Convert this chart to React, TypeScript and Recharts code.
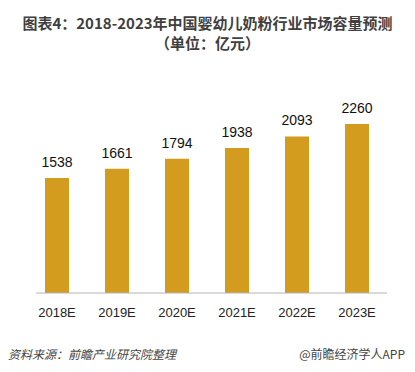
import { Bar, BarChart, LabelList, XAxis, YAxis } from "recharts";

const years = ["2018E", "2019E", "2020E", "2021E", "2022E", "2023E"];
const marketSize = [1538, 1661, 1794, 1938, 2093, 2260];

const data = years.map((year, i) => ({ year, value: marketSize[i] }));

const cjk = '"Noto Sans CJK SC", "Noto Sans", sans-serif';
const latin = '"Liberation Sans", Arial, sans-serif';

export default function App() {
  return (
    <div
      style={{
        position: "fixed",
        left: 0,
        top: 0,
        width: 415,
        height: 372,
        background: "#fff",
        overflow: "hidden",
      }}
    >
      <div
        style={{
          position: "absolute",
          left: 0,
          top: 13,
          width: 415,
          textAlign: "center",
          fontFamily: cjk,
          fontWeight: 700,
          fontSize: 15,
          lineHeight: "20px",
          color: "#3f3f3f",
        }}
      >
        <div>图表4：2018-2023年中国婴幼儿奶粉行业市场容量预测</div>
        <div>（单位：亿元）</div>
      </div>

      <div style={{ position: "absolute", left: 0, top: 0 }}>
        <BarChart
          width={415}
          height={372}
          data={data}
          margin={{ top: 106, right: 28, bottom: 49, left: 27 }}
        >
          <XAxis
            dataKey="year"
            height={30}
            tickLine={false}
            tickSize={0}
            tickMargin={15}
            axisLine={{ stroke: "#b4b4b4", strokeDasharray: "0 9 400" }}
            tick={{ fill: "#222", fontSize: 13, fontFamily: latin }}
            interval={0}
          />
          <YAxis hide domain={[0, 2500]} />
          <Bar dataKey="value" fill="#d49c1f" barSize={24} isAnimationActive={false}>
            <LabelList
              dataKey="value"
              position="top"
              offset={11}
              style={{ fill: "#111", fontSize: 14, fontFamily: latin }}
            />
          </Bar>
        </BarChart>
      </div>

      <div
        style={{
          position: "absolute",
          left: 8,
          top: 345,
          fontFamily: cjk,
          fontSize: 12,
          fontStyle: "italic",
          color: "#444",
          whiteSpace: "nowrap",
        }}
      >
        资料来源：前瞻产业研究院整理
      </div>
      <div
        style={{
          position: "absolute",
          right: 10,
          top: 345,
          fontFamily: cjk,
          fontSize: 12,
          color: "#444",
          whiteSpace: "nowrap",
        }}
      >
        @前瞻经济学人APP
      </div>
    </div>
  );
}
